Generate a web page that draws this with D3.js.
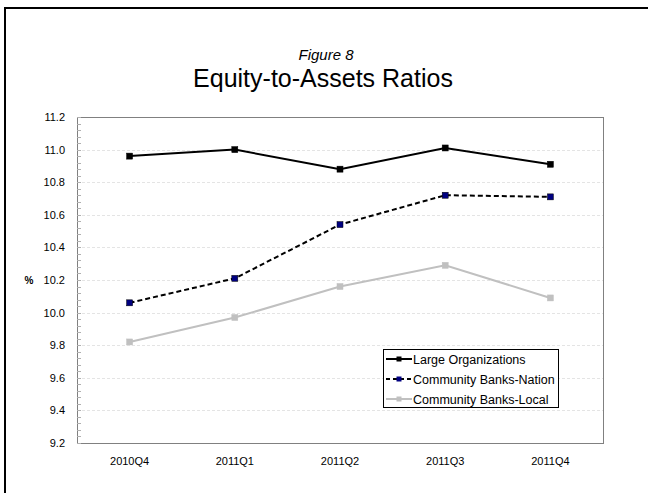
<!DOCTYPE html>
<html>
<head>
<meta charset="utf-8">
<script src="https://cdn.jsdelivr.net/npm/d3@7"></script>
<style>
  html, body { margin: 0; padding: 0; background: #fff; }
  svg { display: block; font-family: "Liberation Sans", Arial, sans-serif; }
</style>
</head>
<body>
<svg id="chart" width="648" height="493"></svg>
<script>
// Quarterly equity-to-assets ratios (%)
const quarters = ["2010Q4", "2011Q1", "2011Q2", "2011Q3", "2011Q4"];
const largeOrgs = [10.96, 11.00, 10.88, 11.01, 10.91];
const commNation = [10.06, 10.21, 10.54, 10.72, 10.71];
const commLocal = [9.82, 9.97, 10.16, 10.29, 10.09];
const yTicks = [9.2, 9.4, 9.6, 9.8, 10.0, 10.2, 10.4, 10.6, 10.8, 11.0, 11.2];

const seriesList = [
  { name: "Large Organizations", values: largeOrgs, stroke: "#000000", marker: "#000000", dash: null },
  { name: "Community Banks-Nation", values: commNation, stroke: "#000000", marker: "#000080", dash: "5,3" },
  { name: "Community Banks-Local", values: commLocal, stroke: "#c0c0c0", marker: "#c0c0c0", dash: null }
];

const svg = d3.select("#chart");

// frame around the figure
svg.append("rect")
  .attr("x", 5).attr("y", 8).attr("width", 700).attr("height", 600)
  .attr("fill", "none").attr("stroke", "#000").attr("stroke-width", 2);

// titles
svg.append("text")
  .attr("x", 326).attr("y", 60)
  .attr("text-anchor", "middle")
  .attr("font-size", 15).attr("font-style", "italic")
  .text("Figure 8");
svg.append("text")
  .attr("x", 323).attr("y", 87)
  .attr("text-anchor", "middle")
  .attr("font-size", 25)
  .text("Equity-to-Assets Ratios");

const plot = { left: 77, right: 603, top: 117, bottom: 443 };

const x = d3.scaleBand().domain(quarters).range([plot.left, plot.right]);
const y = d3.scaleLinear().domain([9.2, 11.2]).range([plot.bottom, plot.top]);

// horizontal gridlines
svg.append("g")
  .selectAll("line")
  .data(yTicks.slice(1, -1))
  .join("line")
  .attr("x1", plot.left).attr("x2", plot.right)
  .attr("y1", d => Math.round(y(d)) + 0.5).attr("y2", d => Math.round(y(d)) + 0.5)
  .attr("stroke", "#e4e4e4").attr("stroke-width", 1).attr("stroke-dasharray", "3,2");

// plot area border
svg.append("rect")
  .attr("x", plot.left + 0.5).attr("y", plot.top + 0.5)
  .attr("width", plot.right - plot.left).attr("height", plot.bottom - plot.top)
  .attr("fill", "none").attr("stroke", "#808080").attr("stroke-width", 1);

// y axis with minor ticks pointing inward
const minorTicks = d3.range(9.2, 11.2001, 0.04);
svg.append("g")
  .selectAll("line")
  .data(minorTicks)
  .join("line")
  .attr("x1", plot.left).attr("x2", plot.left + 4)
  .attr("y1", d => Math.round(y(d)) + 0.5).attr("y2", d => Math.round(y(d)) + 0.5)
  .attr("stroke", "#b0b0b0").attr("stroke-width", 1);

const yAxis = d3.axisLeft(y).tickValues(yTicks).tickFormat(d3.format(".1f")).tickSize(0).tickPadding(12);
const yg = svg.append("g").attr("transform", `translate(${plot.left},0)`).call(yAxis);
yg.select(".domain").remove();
yg.selectAll("text").attr("font-size", 11).attr("fill", "#000").attr("font-family", "Liberation Sans, Arial, sans-serif");

// x axis labels
const xAxis = d3.axisBottom(x).tickSize(0).tickPadding(14);
const xg = svg.append("g").attr("transform", `translate(0,${plot.bottom})`).call(xAxis);
xg.select(".domain").remove();
xg.selectAll("text").attr("font-size", 11).attr("fill", "#000").attr("font-family", "Liberation Sans, Arial, sans-serif");

// y axis unit
svg.append("text")
  .attr("x", 29).attr("y", y(10.2) + 4)
  .attr("text-anchor", "middle")
  .attr("font-size", 10).attr("font-weight", "bold")
  .text("%");

// series lines and markers
const cx = d => x(d) + x.bandwidth() / 2;
const line = d3.line().x((v, i) => cx(quarters[i])).y(v => y(v));

seriesList.slice().reverse().forEach(s => {
  svg.append("path")
    .datum(s.values)
    .attr("d", line)
    .attr("fill", "none")
    .attr("stroke", s.stroke)
    .attr("stroke-width", 2)
    .attr("stroke-dasharray", s.dash);
  svg.append("g")
    .selectAll("rect")
    .data(s.values)
    .join("rect")
    .attr("x", (v, i) => cx(quarters[i]) - 3)
    .attr("y", v => y(v) - 3)
    .attr("width", 6).attr("height", 6)
    .attr("fill", s.marker)
    .attr("stroke", s.marker === "#000080" ? "#000" : s.marker)
    .attr("stroke-width", 0.5);
});

// legend
const lg = svg.append("g").attr("transform", "translate(383,349)");
lg.append("rect")
  .attr("x", 0.5).attr("y", 0.5).attr("width", 175).attr("height", 58)
  .attr("fill", "#fff").attr("stroke", "#000").attr("stroke-width", 1);
seriesList.forEach((s, i) => {
  const ry = 10 + i * 20;
  lg.append("line")
    .attr("x1", 3).attr("x2", 29).attr("y1", ry).attr("y2", ry)
    .attr("stroke", s.stroke).attr("stroke-width", 2)
    .attr("stroke-dasharray", s.dash ? "4,3" : null);
  lg.append("rect")
    .attr("x", 13.5).attr("y", ry - 2.5).attr("width", 5).attr("height", 5)
    .attr("fill", s.marker);
  lg.append("text")
    .attr("x", 30).attr("y", ry + 4.5)
    .attr("font-size", 12.5)
    .text(s.name);
});
</script>
</body>
</html>
